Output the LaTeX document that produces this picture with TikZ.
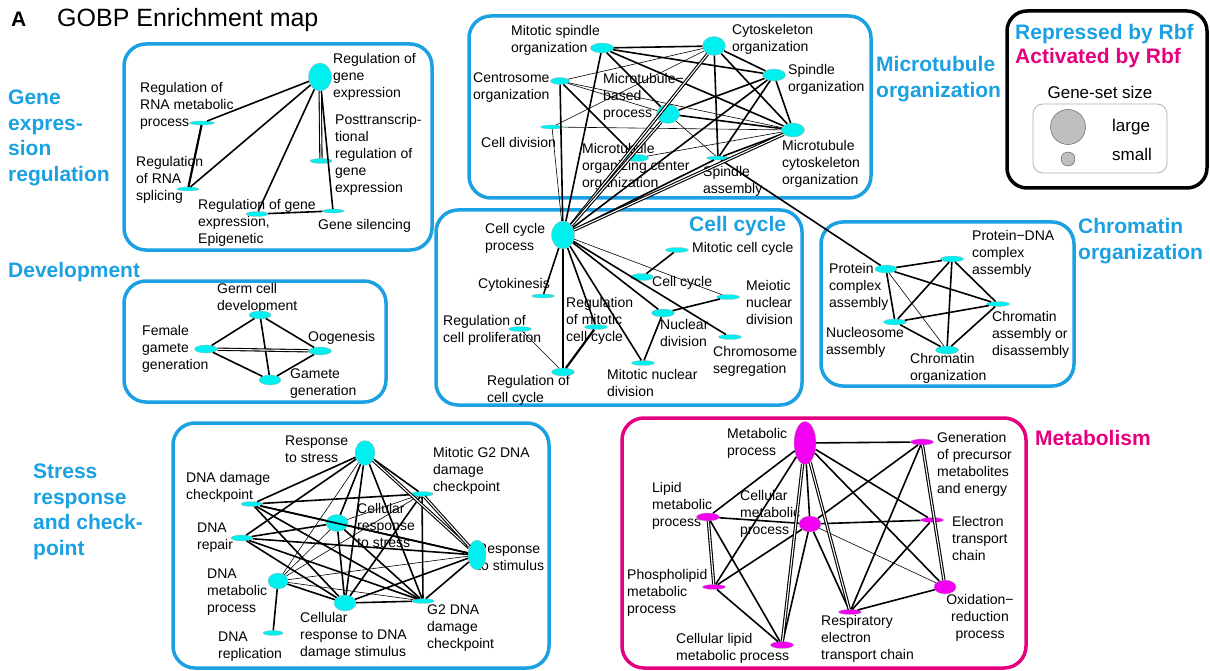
\documentclass[tikz,border=0pt]{standalone}
\usepackage{fontspec}
\setmainfont{Liberation Sans}
\usetikzlibrary{shapes.geometric}
\definecolor{repCol}{RGB}{27,161,226}
\definecolor{actCol}{RGB}{228,0,127}
\definecolor{repNode}{RGB}{0,240,240}
\definecolor{actNode}{RGB}{242,0,242}
\newcommand\lblsize{\fontsize{14}{17}\selectfont}
\newcommand\grpsize{\fontsize{21}{25.5}\selectfont\bfseries}
\tikzset{
  gset/.style={ellipse,draw=black!30,line width=0.3pt,inner sep=0pt},
  rep/.style 2 args={gset,fill=repNode,minimum width=#1pt,minimum height=#2pt},
  act/.style 2 args={gset,fill=actNode,minimum width=#1pt,minimum height=#2pt},
  lbl/.style={font=\lblsize,align=left,anchor=west,inner sep=0pt},
  grp/.style={font=\grpsize,align=left,anchor=west,inner sep=0pt,text=repCol},
  grpbox/.style={draw=repCol,line width=3.5pt,rounded corners=22pt},
  lnk/.style={line width=1.6pt},
  lnkthin/.style={line width=0.6pt},
  lnkdbl/.style={double,double distance=1.1pt,line width=1.1pt},
}

\begin{document}
\begin{tikzpicture}[x=1pt,y=-1pt]
  \fill[white] (0,0) rectangle (1210,671);
  \useasboundingbox (0,0) rectangle (1210,671);

  % heading
  \node[font=\fontsize{21}{22}\selectfont\bfseries,anchor=west,inner sep=0pt] (panel) at (11,19) {A};
  \node[font=\fontsize{25}{28}\selectfont,anchor=west,inner sep=0pt] (title) at (57,20) {GOBP Enrichment map};

  % cluster frames
  \draw[grpbox] (124,44) rectangle (432,250);
  \draw[grpbox] (469,16) rectangle (871,198);
  \draw[grpbox] (436,210) rectangle (802,405);
  \draw[grpbox] (821,222) rectangle (1074,386);
  \draw[grpbox] (124,281) rectangle (386,402);
  \draw[grpbox] (173,423) rectangle (549,668);
  \draw[grpbox,draw=actCol] (622,418) rectangle (1026,668);

  % cluster names
  \node[grp] (ge-g) at (8,138) {Gene\\expres-\\sion\\regulation};
  \node[grp] (mt-g) at (876,79) {Microtubule\\organization};
  \node[grp] (cc-g) at (689,226) {Cell cycle};
  \node[grp] (ch-g) at (1078,241) {Chromatin\\organization};
  \node[grp] (dv-g) at (8,272) {Development};
  \node[grp] (st-g) at (33,512) {Stress\\response\\and check-\\point};
  \node[grp,text=actCol] (me-g) at (1035,438) {Metabolism};

  % legend
  \draw[line width=3.5pt,rounded corners=20pt] (1007,11) rectangle (1207,188);
  \node[grp] (leg-rep) at (1015,34) {Repressed by Rbf};
  \node[grp,text=actCol] (leg-act) at (1015,58) {Activated by Rbf};
  \node[font=\fontsize{17}{20}\selectfont,inner sep=0pt] (leg-size) at (1100,92) {Gene-set size};
  \draw[black!30,line width=0.8pt,rounded corners=10pt] (1033,104) rectangle (1167,173);
  \node[circle,draw=black!70,fill=black!25,minimum size=35pt,inner sep=0pt] (leg-big) at (1068,127) {};
  \node[circle,draw=black!70,fill=black!25,minimum size=14pt,inner sep=0pt] (leg-sml) at (1068,159) {};
  \node[font=\fontsize{17}{20}\selectfont,anchor=west,inner sep=0pt] (leg-big-t) at (1112,127) {large};
  \node[font=\fontsize{17}{20}\selectfont,anchor=west,inner sep=0pt] (leg-sml-t) at (1112,154) {small};

  % gene expression regulation
  \node[lbl] (ge-t) at (333,77) {Regulation of\\gene\\expression};
  \node[lbl] (rnamet-t) at (140,106) {Regulation of\\RNA metabolic\\process};
  \node[lbl] (rnaspl-t) at (136,180) {Regulation\\of RNA\\splicing};
  \node[lbl] (geepi-t) at (198,223) {Regulation of gene\\expression,\\Epigenetic};
  \node[lbl] (ptr-t) at (335,155) {Posttranscrip-\\tional\\regulation of\\gene\\expression};
  \node[lbl] (gsil-t) at (318,226) {Gene silencing};
  \node[rep={23}{28}] (ge) at (320,77) {};
  \node[rep={25}{4}] (rnamet) at (202,123) {};
  \node[rep={22}{4}] (rnaspl) at (188,189) {};
  \node[rep={22}{5}] (geepi) at (257,214) {};
  \node[rep={22}{5}] (ptr) at (321,161) {};
  \node[rep={22}{4}] (gsil) at (333,211) {};
  \foreach \a/\b in {ge/rnamet,ge/rnaspl,ge/geepi,ge/gsil,geepi/gsil}
    \draw[lnk] (\a) -- (\b);
  \draw[lnkdbl] (ge) -- (ptr);
  \draw[lnk,line width=2.2pt] (rnamet) -- (rnaspl);

  % microtubule organization
  \node[lbl] (mso-t) at (511,40) {Mitotic spindle\\organization};
  \node[lbl] (cyto-t) at (732,39) {Cytoskeleton\\organization};
  \node[lbl] (spo-t) at (788,79) {Spindle\\organization};
  \node[lbl] (cento-t) at (473,88) {Centrosome\\organization};
  \node[lbl] (mbp-t) at (603,97) {Microtubule−\\based\\process};
  \node[lbl] (cdiv-t) at (481,142) {Cell division};
  \node[lbl] (mco-t) at (782,164) {Microtubule\\cytoskeleton\\organization};
  \node[lbl] (mtoc-t) at (582,167) {Microtubule\\organizing center\\organization};
  \node[lbl] (spa-t) at (703,181) {Spindle\\assembly};
  \node[rep={23}{10}] (mso) at (602,48) {};
  \node[rep={23}{19}] (cyto) at (714,46) {};
  \node[rep={23}{12}] (spo) at (774,75) {};
  \node[rep={19}{7}] (cento) at (560,81) {};
  \node[rep={23}{19}] (mbp) at (668,114) {};
  \node[rep={23}{4}] (cdiv) at (552,127) {};
  \node[rep={23}{14}] (mco) at (793,130) {};
  \node[rep={23}{7}] (mtoc) at (637,158) {};
  \node[rep={23}{4}] (spa) at (718,158) {};

  % cell cycle
  \node[lbl] (ccp-t) at (485,238) {Cell cycle\\process};
  \node[lbl] (mcc-t) at (692,249) {Mitotic cell cycle};
  \node[lbl] (ccyc-t) at (652,283) {Cell cycle};
  \node[lbl] (mnd-t) at (746,302) {Meiotic\\nuclear\\division};
  \node[lbl] (ckin-t) at (478,285) {Cytokinesis};
  \node[lbl] (rpro-t) at (443,330) {Regulation of\\cell proliferation};
  \node[lbl] (rmcc-t) at (566,321) {Regulation\\of mitotic\\cell cycle};
  \node[lbl] (nucd-t) at (660,333) {Nuclear\\division};
  \node[lbl] (chrs-t) at (713,361) {Chromosome\\segregation};
  \node[lbl] (mitnd-t) at (607,383) {Mitotic nuclear\\division};
  \node[lbl] (rcc-t) at (487,390) {Regulation of\\cell cycle};
  \node[rep={23}{28}] (ccp) at (563,235) {};
  \node[rep={23}{5}] (mcc) at (677,250) {};
  \node[rep={23}{7}] (ccyc) at (642,277) {};
  \node[rep={23}{5}] (mnd) at (728,297) {};
  \node[rep={23}{4}] (ckin) at (543,296) {};
  \node[rep={23}{5}] (rpro) at (520,329) {};
  \node[rep={23}{5}] (rmcc) at (596,327) {};
  \node[rep={23}{8}] (nucd) at (663,313) {};
  \node[rep={23}{5}] (chrs) at (730,337) {};
  \node[rep={23}{5}] (mitnd) at (643,363) {};
  \node[rep={23}{8}] (rcc) at (563,372) {};

  % chromatin organization
  \node[lbl] (pca-t) at (829,287) {Protein\\complex\\assembly};
  \node[lbl] (pdna-t) at (972,254) {Protein−DNA\\complex\\assembly};
  \node[lbl] (cad-t) at (992,335) {Chromatin\\assembly or\\disassembly};
  \node[lbl] (nuca-t) at (826,342) {Nucleosome\\assembly};
  \node[lbl] (corg-t) at (910,368) {Chromatin\\organization};
  \node[rep={22}{8}] (pca) at (886,269) {};
  \node[rep={23}{6}] (pdna) at (952,259) {};
  \node[rep={23}{5}] (cad) at (998,304) {};
  \node[rep={23}{6}] (nuca) at (895,322) {};
  \node[rep={23}{8}] (corg) at (947,350) {};

  % microtubule and cell cycle links
  \foreach \a/\b in {mso/cyto,mso/spo,mso/mco,mso/mbp,cyto/spo,cyto/mco,cyto/spa,
                     spo/mbp,spo/mco,spo/spa,mbp/mco,cento/mtoc,mco/spa,
                     ccp/cento,ccp/mso,ccp/spo,ccp/spa,
                     ccp/ckin,ccp/rcc,ccp/rmcc,ccp/mitnd,ccp/nucd,ccp/chrs,ccyc/mcc,
                     nucd/mnd,nucd/mitnd,spa/pca}
    \draw[lnk] (\a) -- (\b);
  \foreach \a/\b in {cyto/cento,cyto/cdiv,cdiv/mco,cento/mco,cento/mbp,mtoc/mco,
                     mbp/spa,ccp/cdiv,ccp/mnd,rpro/rcc}
    \draw[lnkthin] (\a) -- (\b);
  \foreach \a/\b in {ccp/cyto,ccp/mbp,ccp/mco}
    \draw[lnkdbl] (\a) -- (\b);
  \draw[lnk,line width=2.2pt] (rmcc) -- (rcc);

  % chromatin links
  \foreach \a/\b in {pca/pdna,pca/cad,pca/nuca,pdna/nuca,pdna/corg,pdna/cad,
                     nuca/cad,nuca/corg,cad/corg}
    \draw[lnk] (\a) -- (\b);
  \draw[lnkthin] (pca) -- (corg);

  % development
  \node[lbl] (gcd-t) at (217,298) {Germ cell\\development};
  \node[lbl] (fgg-t) at (142,349) {Female\\gamete\\generation};
  \node[lbl] (oog-t) at (308,338) {Oogenesis};
  \node[lbl] (gamg-t) at (290,384) {Gamete\\generation};
  \node[rep={22}{8}] (gcd) at (260,315) {};
  \node[rep={23}{8}] (fgg) at (206,349) {};
  \node[rep={23}{8}] (oog) at (320,351) {};
  \node[rep={22}{10}] (gamg) at (270,380) {};
  \foreach \a/\b in {gcd/fgg,gcd/oog,gcd/gamg,fgg/gamg,oog/gamg}
    \draw[lnk] (\a) -- (\b);
  \draw[lnkdbl] (fgg) -- (oog);

  % stress response and checkpoint
  \node[lbl] (rs-t) at (285,449) {Response\\to stress};
  \node[lbl] (mg2-t) at (433,471) {Mitotic G2 DNA\\damage\\checkpoint};
  \node[lbl] (ddc-t) at (186,487) {DNA damage\\checkpoint};
  \node[lbl] (crs-t) at (357,525) {Cellular\\response\\to stress};
  \node[lbl] (dnar-t) at (197,538) {DNA\\repair};
  \node[lbl] (rstim-t) at (477,557) {Response\\to stimulus};
  \node[lbl] (dmp-t) at (207,592) {DNA\\metabolic\\process};
  \node[lbl] (crd-t) at (300,636) {Cellular\\response to DNA\\damage stimulus};
  \node[lbl] (g2-t) at (427,628) {G2 DNA\\damage\\checkpoint};
  \node[lbl] (drep-t) at (218,647) {DNA\\replication};
  \node[rep={20}{25}] (rs) at (365,453) {};
  \node[rep={22}{5}] (mg2) at (422,494) {};
  \node[rep={22}{5}] (ddc) at (252,504) {};
  \node[rep={22}{17}] (crs) at (337,523) {};
  \node[rep={22}{6}] (dnar) at (242,538) {};
  \node[rep={18}{30}] (rstim) at (477,555) {};
  \node[rep={20}{16}] (dmp) at (278,581) {};
  \node[rep={22}{16}] (crd) at (345,603) {};
  \node[rep={22}{5}] (g2) at (423,601) {};
  \node[rep={20}{5}] (drep) at (273,633) {};
  \foreach \a/\b in {rs/ddc,rs/dnar,rs/crs,rs/crd,rs/g2,rs/mg2,
                     ddc/mg2,ddc/crs,ddc/rstim,ddc/crd,ddc/g2,
                     dnar/crs,dnar/rstim,dnar/crd,dnar/g2,dmp/crd,dmp/drep,
                     crs/rstim,crs/g2,crs/crd,mg2/g2,mg2/crd,crd/g2,crd/rstim,g2/rstim}
    \draw[lnk] (\a) -- (\b);
  \foreach \a/\b in {rs/dmp,dmp/crs,dmp/mg2,dmp/rstim,dmp/g2,crs/mg2}
    \draw[lnkthin] (\a) -- (\b);
  \foreach \a/\b in {rs/rstim,mg2/rstim}
    \draw[lnkdbl] (\a) -- (\b);

  % metabolism
  \node[lbl] (mp-t) at (727,443) {Metabolic\\process};
  \node[lbl] (gpm-t) at (937,464) {Generation\\of precursor\\metabolites\\and energy};
  \node[lbl] (lmp-t) at (652,506) {Lipid\\metabolic\\process};
  \node[lbl] (cmp-t) at (740,514) {Cellular\\metabolic\\process};
  \node[lbl] (etch-t) at (952,538) {Electron\\transport\\chain};
  \node[lbl] (pmp-t) at (627,593) {Phospholipid\\metabolic\\process};
  \node[lbl,align=center,anchor=center] (orp-t) at (980,618) {Oxidation−\\reduction\\process};
  \node[lbl] (retc-t) at (821,639) {Respiratory\\electron\\transport chain};
  \node[lbl] (clmp-t) at (676,648) {Cellular lipid\\metabolic process};
  \node[act={22}{43}] (mp) at (805,443) {};
  \node[act={23}{6}] (gpm) at (922,442) {};
  \node[act={23}{8}] (lmp) at (708,517) {};
  \node[act={22}{16}] (cmp) at (810,524) {};
  \node[act={23}{5}] (etch) at (932,520) {};
  \node[act={23}{5}] (pmp) at (714,587) {};
  \node[act={22}{14}] (orp) at (945,587) {};
  \node[act={23}{5}] (retc) at (850,612) {};
  \node[act={23}{7}] (clmp) at (782,645) {};
  \foreach \a/\b in {mp/gpm,mp/lmp,mp/pmp,mp/cmp,mp/etch,mp/orp,
                     lmp/cmp,lmp/clmp,pmp/cmp,pmp/clmp,
                     cmp/gpm,cmp/etch,cmp/retc,cmp/clmp,
                     gpm/retc,etch/retc,retc/orp}
    \draw[lnk] (\a) -- (\b);
  \draw[lnkthin] (cmp) -- (orp);
  \foreach \a/\b in {mp/clmp,mp/retc,lmp/pmp,gpm/orp}
    \draw[lnkdbl] (\a) -- (\b);
\end{tikzpicture}
\end{document}
